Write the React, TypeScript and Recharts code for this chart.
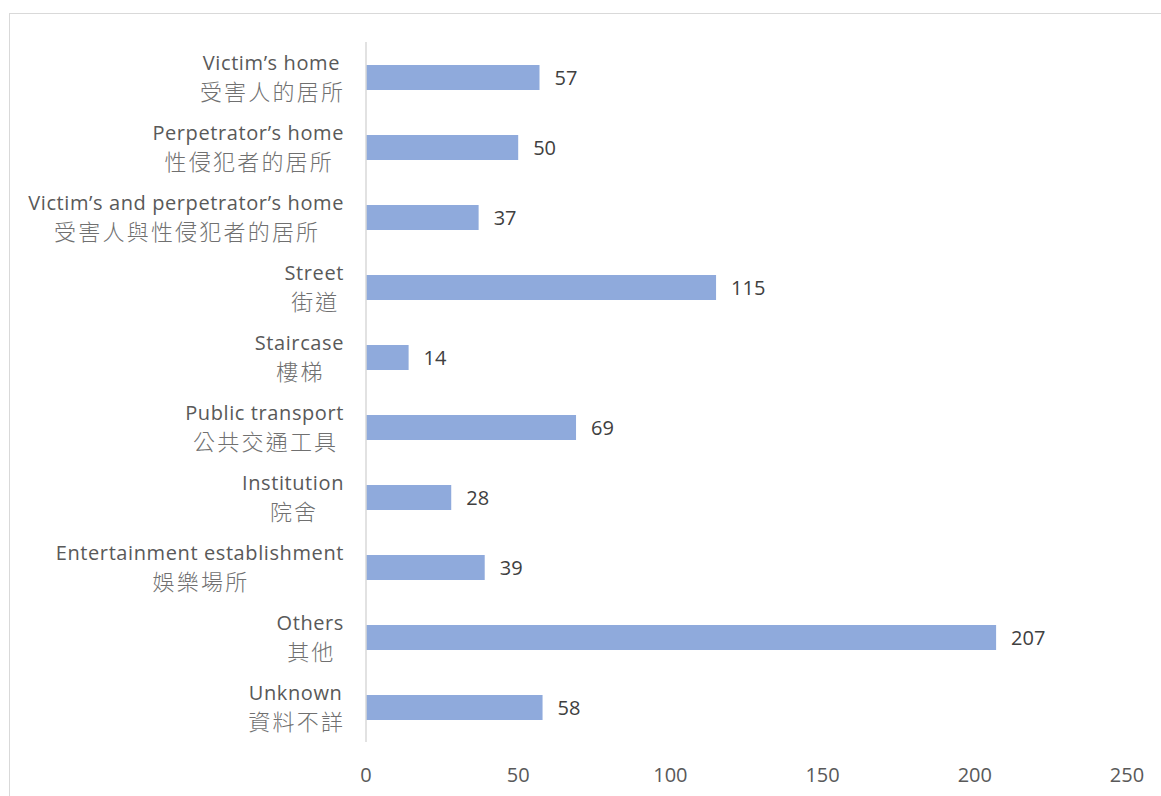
import React from 'react';
import { BarChart, Bar, XAxis, YAxis, LabelList } from 'recharts';

const englishLabels = [
  'Victim’s home',
  'Perpetrator’s home',
  'Victim’s and perpetrator’s home',
  'Street',
  'Staircase',
  'Public transport',
  'Institution',
  'Entertainment establishment',
  'Others',
  'Unknown',
];
const chineseLabels = [
  '受害人的居所',
  '性侵犯者的居所',
  '受害人與性侵犯者的居所',
  '街道',
  '樓梯',
  '公共交通工具',
  '院舍',
  '娛樂場所',
  '其他',
  '資料不詳',
];
const caseCounts = [57, 50, 37, 115, 14, 69, 28, 39, 207, 58];
const xTicks = [0, 50, 100, 150, 200, 250];

const data = englishLabels.map((en, i) => ({
  name: en,
  zh: chineseLabels[i],
  value: caseCounts[i],
}));

const FONT = '"Open Sans", "Noto Sans", sans-serif';
const CJK_FONT = '"Noto Sans CJK TC", "Noto Sans CJK SC", sans-serif';

const EN_SIZE = 20;
const EN_SPACING = 0.6;
const ZH_SIZE = 22;
const ZH_SPACING = 2.2;

let ctx: CanvasRenderingContext2D | null = null;
function measure(text: string, font: string, spacing: number) {
  if (!ctx) ctx = document.createElement('canvas').getContext('2d');
  if (!ctx) return text.length * 10;
  ctx.font = font;
  return ctx.measureText(text).width + spacing * text.length;
}

function CategoryTick(props: any) {
  const { x, y, payload } = props;
  const idx = englishLabels.indexOf(payload.value);
  const en = payload.value as string;
  const zh = chineseLabels[idx];
  const wEn = measure(en, `${EN_SIZE}px ${FONT}`, EN_SPACING);
  const wZh = measure(zh, `300 ${ZH_SIZE}px ${CJK_FONT}`, ZH_SPACING);
  const right = x - 14;
  const cx = right - Math.max(wEn, wZh) / 2;
  return (
    <g>
      <text
        x={cx}
        y={y - 7}
        textAnchor="middle"
        fill="#595959"
        fontSize={EN_SIZE}
        letterSpacing={EN_SPACING}
        fontFamily={FONT}
      >
        {en}
      </text>
      <text
        x={cx + ZH_SPACING / 2}
        y={y + 23}
        textAnchor="middle"
        fill="#707070"
        fontSize={ZH_SIZE}
        fontWeight={300}
        letterSpacing={ZH_SPACING}
        fontFamily={CJK_FONT}
      >
        {zh}
      </text>
    </g>
  );
}

export default function App() {
  return (
    <div
      style={{
        position: 'fixed',
        left: 0,
        top: 0,
        width: 1161,
        height: 796,
        overflow: 'hidden',
        background: '#fff',
      }}
    >
      <div
        style={{
          position: 'absolute',
          left: 9,
          top: 13,
          width: 1160,
          height: 790,
          border: '1px solid #d9d9d9',
        }}
      >
        <BarChart
          width={1160}
          height={790}
          data={data}
          layout="vertical"
          margin={{ top: 28, right: 43, left: 0, bottom: 22 }}
          barCategoryGap={0}
        >
          <XAxis
            type="number"
            domain={[0, 250]}
            ticks={xTicks}
            axisLine={false}
            tickLine={false}
            tickMargin={20}
            height={40}
            tick={{ fill: '#595959', fontSize: 20, fontFamily: FONT }}
          />
          <YAxis
            type="category"
            dataKey="name"
            width={356}
            axisLine={{ stroke: '#d9d9d9', strokeWidth: 1.5 }}
            tickLine={false}
            tick={<CategoryTick />}
            interval={0}
          />
          <Bar dataKey="value" fill="#8faadc" barSize={25} isAnimationActive={false}>
            <LabelList
              dataKey="value"
              position="right"
              offset={15}
              fill="#404040"
              fontSize={20}
              fontFamily={FONT}
            />
          </Bar>
        </BarChart>
      </div>
    </div>
  );
}
